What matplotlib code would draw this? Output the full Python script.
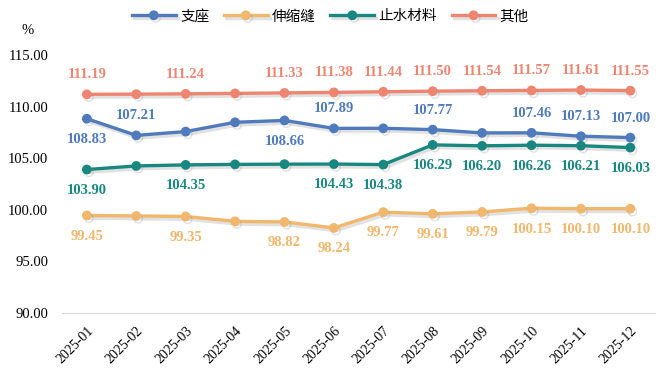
import matplotlib.pyplot as plt
import matplotlib.patheffects as pe

plt.rcParams['font.family'] = ['Liberation Serif', 'Noto Sans CJK SC']

months = ['2025-01', '2025-02', '2025-03', '2025-04', '2025-05', '2025-06',
          '2025-07', '2025-08', '2025-09', '2025-10', '2025-11', '2025-12']

names = ['支座', '伸缩缝', '止水材料', '其他']
zhizuo = [108.83, 107.21, 107.58, 108.48, 108.66, 107.89, 107.90, 107.77, 107.45, 107.46, 107.13, 107.00]
shensuo = [99.45, 99.40, 99.35, 98.88, 98.82, 98.24, 99.77, 99.61, 99.79, 100.15, 100.10, 100.10]
zhishui = [103.90, 104.25, 104.35, 104.40, 104.42, 104.43, 104.38, 106.29, 106.20, 106.26, 106.21, 106.03]
qita = [111.19, 111.21, 111.24, 111.28, 111.33, 111.38, 111.44, 111.50, 111.54, 111.57, 111.61, 111.55]

colors = ['#4f7bbd', '#f0b76d', '#18877f', '#ee8570']

# where the value label goes for each point: 1 above, -1 below, 0 none
lab_zhizuo = [-1, 1, 0, 0, -1, 1, 0, 1, 0, 1, 1, 1]
lab_shensuo = [-1, 0, -1, 0, -1, -1, -1, -1, -1, -1, -1, -1]
lab_zhishui = [-1, 0, -1, 0, 0, -1, -1, -1, -1, -1, -1, -1]
lab_qita = [1, 0, 1, 0, 1, 1, 1, 1, 1, 1, 1, 1]

series = [zhizuo, shensuo, zhishui, qita]
labpos = [lab_zhizuo, lab_shensuo, lab_zhishui, lab_qita]

fig = plt.figure(figsize=(6.61, 3.77), dpi=100)
ax = fig.add_axes([0.094, 0.170, 0.897, 0.684])

x = list(range(len(months)))
shadow = [pe.SimpleLineShadow(offset=(1.5, -2), shadow_color='#888888', alpha=0.25), pe.Normal()]
for vals, name, c, lp in zip(series, names, colors, labpos):
    ax.plot(x, vals, color=c, lw=2.4, marker='o', ms=6, label=name,
            path_effects=shadow, zorder=3)
    for i, v in enumerate(vals):
        if lp[i] == 0:
            continue
        off = 14 if lp[i] > 0 else -15
        ax.annotate(f'{v:.2f}', (i, v), xytext=(0, off), textcoords='offset points',
                    ha='center', va='center', color=c, fontsize=10.5, fontweight='bold')

ax.set_xlim(-0.5, len(months) - 0.5)
ax.set_ylim(90, 115)
ax.set_yticks([90, 95, 100, 105, 110, 115])
ax.set_yticklabels([f'{t:.2f}' for t in [90, 95, 100, 105, 110, 115]], fontsize=10.5)
ax.set_xticks(x)
ax.set_xticklabels(months, rotation=45, ha='right', rotation_mode='anchor', fontsize=10)
ax.tick_params(length=0, pad=8)
ax.tick_params(axis='y', pad=10)
for s in ['top', 'right', 'left']:
    ax.spines[s].set_visible(False)
ax.spines['bottom'].set_color('#d9d9d9')

fig.text(28 / 661, 1 - 30 / 377, '%', fontsize=10.5, ha='center', va='center')

fig.legend(loc='upper center', bbox_to_anchor=(0.5, 1.01), ncol=4, frameon=False,
           handlelength=3, columnspacing=1.0, handletextpad=0.3,
           prop={'family': ['Noto Sans CJK SC'], 'size': 10.5})

fig.savefig('out.png', dpi=100)
